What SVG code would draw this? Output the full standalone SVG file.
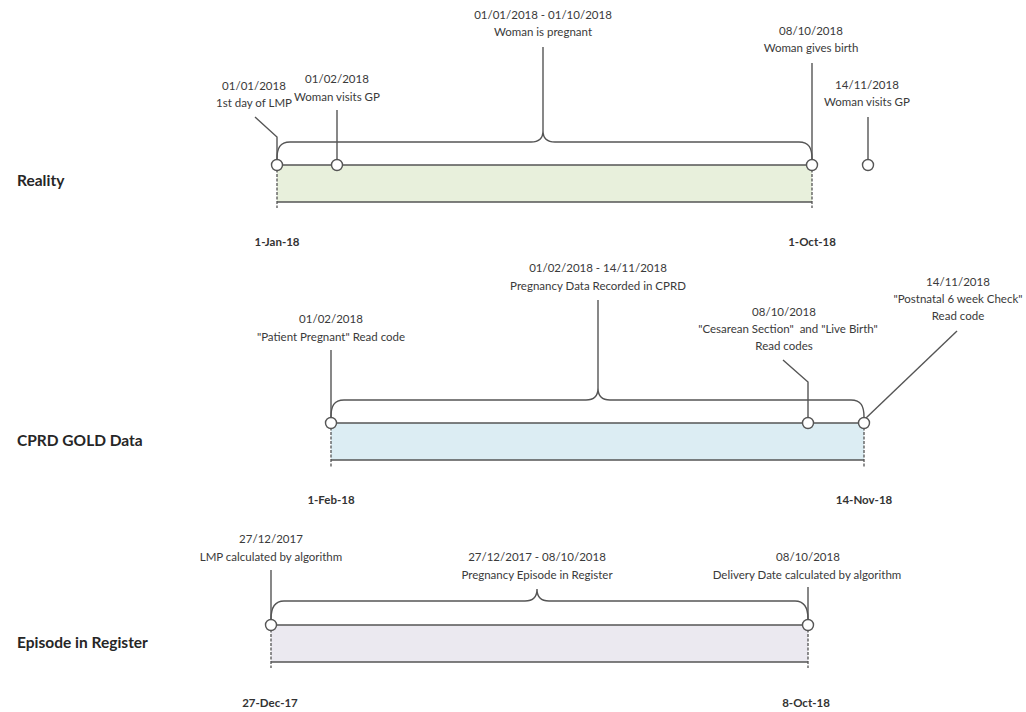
<svg xmlns="http://www.w3.org/2000/svg" width="1026" height="712" viewBox="0 0 1026 712">
<style>
.t{font-family:Lato,"Noto Sans","Liberation Sans",sans-serif;font-size:11.5px;fill:#3a3a3a;text-anchor:middle}
.d{font-family:Lato,"Noto Sans","Liberation Sans",sans-serif;font-size:11.5px;font-weight:bold;fill:#333;text-anchor:middle}
.h{font-family:Lato,"Noto Sans","Liberation Sans",sans-serif;font-size:15.5px;font-weight:bold;fill:#262626}
.ln{fill:none;stroke:#555;stroke-width:1.4}
.ds{fill:none;stroke:#555;stroke-width:1.3;stroke-dasharray:3 1.5}
.c{fill:#fff;stroke:#555;stroke-width:1.4}
</style>
<rect width="1026" height="712" fill="#fff"/>

<g id="reality">
  <text class="h" x="17" y="186">Reality</text>
  <rect x="277" y="165" width="535" height="37" fill="#e8f0dc"/>
  <line class="ln" x1="277" y1="165" x2="812" y2="165"/>
  <line class="ln" x1="277" y1="202" x2="812" y2="202"/>
  <line class="ds" x1="277" y1="165" x2="277" y2="208"/>
  <line class="ds" x1="812" y1="165" x2="812" y2="208"/>
  <text class="d" x="277" y="246">1-Jan-18</text>
  <text class="d" x="812" y="246">1-Oct-18</text>
</g>
<g id="cprd">
  <text class="h" x="17" y="446">CPRD GOLD Data</text>
  <rect x="331" y="423" width="533" height="37" fill="#dcedf3"/>
  <line class="ln" x1="331" y1="423" x2="864" y2="423"/>
  <line class="ln" x1="331" y1="460" x2="864" y2="460"/>
  <line class="ds" x1="331" y1="423" x2="331" y2="467"/>
  <line class="ds" x1="864" y1="423" x2="864" y2="467"/>
  <text class="d" x="331" y="504">1-Feb-18</text>
  <text class="d" x="864" y="504">14-Nov-18</text>
</g>
<g id="episode">
  <text class="h" x="17" y="648">Episode in Register</text>
  <rect x="271" y="625" width="537" height="37" fill="#ebe9f0"/>
  <line class="ln" x1="271" y1="625" x2="808" y2="625"/>
  <line class="ln" x1="271" y1="662" x2="808" y2="662"/>
  <line class="ds" x1="271" y1="625" x2="271" y2="668"/>
  <line class="ds" x1="808" y1="625" x2="808" y2="668"/>
  <text class="d" x="270" y="707">27-Dec-17</text>
  <text class="d" x="806" y="707">8-Oct-18</text>
</g>

<g id="connectors">
  <path class="ln" d="M277,159 C277,148 280,142 290,142 L531,142 C538,142 543,139 543,131 C543,139 548,142 555,142 L799,142 C809,142 812,148 812,159"/>
  <path class="ln" d="M543,131 V47"/>
  <path class="ln" d="M277,159.5 V137 L255,117"/>
  <path class="ln" d="M337,110 V159.5"/>
  <path class="ln" d="M812,63 V159.5"/>
  <path class="ln" d="M868,117 V159.5"/>

  <path class="ln" d="M331,417 C331,406 334,400 344,400 L586,400 C593,400 598,397 598,388 C598,397 603,400 610,400 L851,400 C861,400 864,406 864,417"/>
  <path class="ln" d="M598,388 V300"/>
  <path class="ln" d="M331,350 V417.5"/>
  <path class="ln" d="M783,360 L808,382 V417.5"/>
  <path class="ln" d="M957,331 L866,418"/>

  <path class="ln" d="M271,619 C271,608 274,601 284,601 L525,601 C532,601 537,598 537,589 C537,598 542,601 549,601 L795,601 C805,601 808,608 808,619"/>
  <path class="ln" d="M271,570 V619.5"/>
  <path class="ln" d="M808,587 V619.5"/>
</g>

<g id="points">
  <circle class="c" cx="277" cy="165" r="5.5"/>
  <circle class="c" cx="337" cy="165" r="5.5"/>
  <circle class="c" cx="812" cy="165" r="5.5"/>
  <circle class="c" cx="868" cy="165" r="5.5"/>
  <circle class="c" cx="331" cy="423" r="5.5"/>
  <circle class="c" cx="808" cy="423" r="5.5"/>
  <circle class="c" cx="864" cy="423" r="5.5"/>
  <circle class="c" cx="271" cy="625" r="5.5"/>
  <circle class="c" cx="808" cy="625" r="5.5"/>
</g>

<g id="labels">
  <text class="t" x="543" y="18.5">01/01/2018 - 01/10/2018</text>
  <text class="t" x="543" y="36">Woman is pregnant</text>
  <text class="t" x="254" y="90">01/01/2018</text>
  <text class="t" x="254" y="107">1st day of LMP</text>
  <text class="t" x="337" y="83">01/02/2018</text>
  <text class="t" x="337" y="101">Woman visits GP</text>
  <text class="t" x="811" y="35">08/10/2018</text>
  <text class="t" x="811" y="52">Woman gives birth</text>
  <text class="t" x="867" y="89">14/11/2018</text>
  <text class="t" x="867" y="106">Woman visits GP</text>

  <text class="t" x="598" y="272">01/02/2018 - 14/11/2018</text>
  <text class="t" x="598" y="290">Pregnancy Data Recorded in CPRD</text>
  <text class="t" x="331" y="323">01/02/2018</text>
  <text class="t" x="331" y="341">"Patient Pregnant" Read code</text>
  <text class="t" x="784" y="316">08/10/2018</text>
  <text class="t" x="788" y="333" xml:space="preserve">"Cesarean Section"  and "Live Birth"</text>
  <text class="t" x="784" y="350">Read codes</text>
  <text class="t" x="958" y="286">14/11/2018</text>
  <text class="t" x="958" y="303">"Postnatal 6 week Check"</text>
  <text class="t" x="958" y="320">Read code</text>

  <text class="t" x="271" y="543">27/12/2017</text>
  <text class="t" x="271" y="561">LMP calculated by algorithm</text>
  <text class="t" x="537" y="561">27/12/2017 - 08/10/2018</text>
  <text class="t" x="537" y="579">Pregnancy Episode in Register</text>
  <text class="t" x="808" y="561">08/10/2018</text>
  <text class="t" x="807" y="579">Delivery Date calculated by algorithm</text>
</g>
</svg>
